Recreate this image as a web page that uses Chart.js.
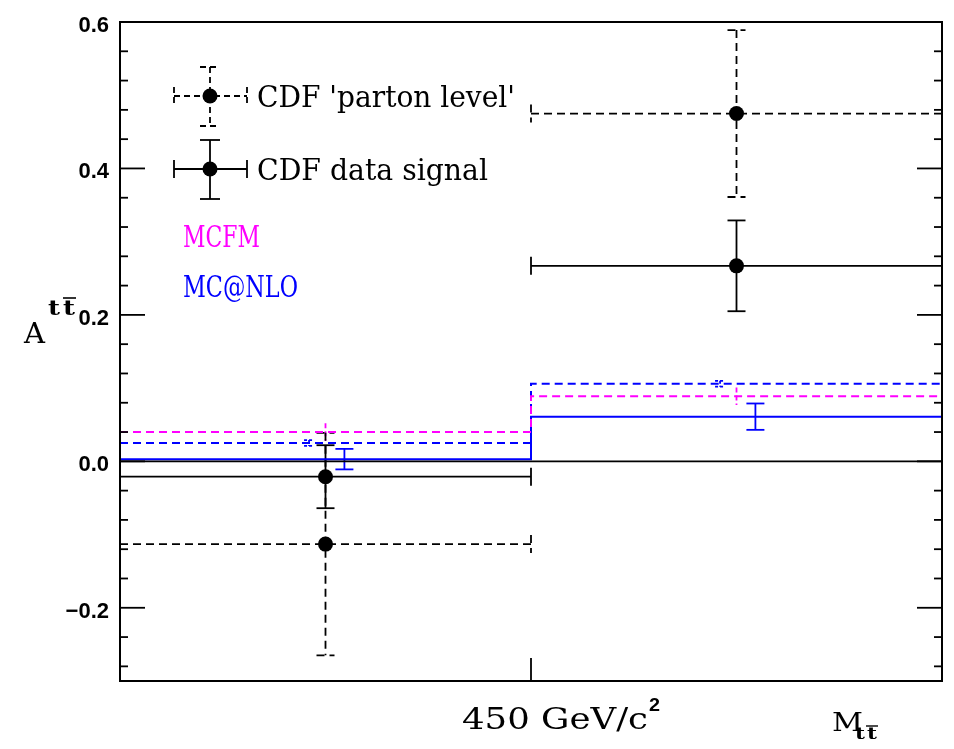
<!DOCTYPE html>
<html>
<head>
<meta charset="utf-8">
<script src="https://cdn.jsdelivr.net/npm/chart.js@4.4.1/dist/chart.umd.min.js"></script>
<style>
    body { margin: 0; background: #fff; }
    #wrap { width: 954px; height: 749px; }
</style>
</head>
<body>
<div id="wrap"><canvas id="grafico" width="954" height="749"></canvas></div>
<script>
// dois bins em M_tt: abaixo e acima de 450 GeV/c^2 (x = 1)
const binEdges = [0, 1, 2];
const binCenters = [0.5, 1.5];

const cdfData = [-0.021, 0.267];
const cdfDataErr = [0.043, 0.062];
const cdfParton = [-0.113, 0.475];
const cdfPartonErr = [0.152, 0.114];

const mcfm = [0.040, 0.089];
const mcfmErr = [0.012, 0.012];
const mcnloDash = [0.025, 0.106];
const mcnloDashErr = [0.004, 0.004];
const mcnlo = [0.003, 0.061];
const mcnloErr = [0.014, 0.018];

const yTicks = [-0.2, 0.0, 0.2, 0.4, 0.6];
const yTickLabels = ["\u22120.2", "0.0", "0.2", "0.4", "0.6"];
const yMinorStep = 0.04;
const xTicks = [1];
const xTickLabel = "450 GeV/c";

const MAGENTA = "#ff00ff";
const AZUL = "#0000ff";
const SERIF = "'DejaVu Serif', serif";
const SANS = "'Liberation Sans', sans-serif";

// histograma em degraus a partir dos valores por bin
function passos(vals) {
    const pts = [];
    vals.forEach((v, i) => {
        pts.push({ x: binEdges[i], y: v }, { x: binEdges[i + 1], y: v });
    });
    return pts;
}

function pontos(vals) {
    return vals.map((v, i) => ({ x: binCenters[i], y: v }));
}

// texto ajustado a uma largura alvo
function texto(ctx, str, x, y, font, cor, largura) {
    ctx.save();
    ctx.font = font;
    ctx.fillStyle = cor;
    ctx.textBaseline = "alphabetic";
    ctx.textAlign = "left";
    ctx.translate(x, y);
    if (largura) {
        const w = ctx.measureText(str).width;
        ctx.scale(largura / w, 1);
    }
    ctx.fillText(str, 0, 0);
    ctx.restore();
}

function linha(ctx, x1, y1, x2, y2) {
    ctx.beginPath();
    ctx.moveTo(x1, y1);
    ctx.lineTo(x2, y2);
    ctx.stroke();
}

function barras(ctx, xs, ys, vals, errs, op) {
    ctx.save();
    ctx.strokeStyle = op.cor;
    ctx.lineWidth = op.lw || 1.8;
    ctx.setLineDash(op.dash || []);
    vals.forEach((v, i) => {
        const px = xs.getPixelForValue(binCenters[i] + (op.dx || 0));
        const py = ys.getPixelForValue(v);
        const pTop = ys.getPixelForValue(v + errs[i]);
        const pBot = ys.getPixelForValue(v - errs[i]);
        linha(ctx, px, pTop, px, pBot);
        if (op.cap) {
            linha(ctx, px - op.cap, pTop, px + op.cap, pTop);
            linha(ctx, px - op.cap, pBot, px + op.cap, pBot);
        }
        if (op.horiz) {
            const xa = xs.getPixelForValue(binEdges[i]);
            const xb = xs.getPixelForValue(binEdges[i + 1]);
            linha(ctx, xa, py, xb, py);
            linha(ctx, xa, py - 9, xa, py + 9);
            linha(ctx, xb, py - 9, xb, py + 9);
        }
    });
    ctx.restore();
}

function marcador(ctx, cx, cy, dash) {
    ctx.save();
    ctx.strokeStyle = "#000";
    ctx.lineWidth = 1.8;
    ctx.setLineDash(dash);
    linha(ctx, 174, cy, 247, cy);
    linha(ctx, 174, cy - 9, 174, cy + 9);
    linha(ctx, 247, cy - 9, 247, cy + 9);
    linha(ctx, cx, cy - 29, cx, cy + 30);
    linha(ctx, cx - 10, cy - 29, cx + 10, cy - 29);
    linha(ctx, cx - 10, cy + 30, cx + 10, cy + 30);
    ctx.setLineDash([]);
    ctx.fillStyle = "#000";
    ctx.beginPath();
    ctx.arc(cx, cy, 7.5, 0, Math.PI * 2);
    ctx.fill();
    ctx.restore();
}

const desenho = {
    id: "desenho",
    beforeDatasetsDraw(chart) {
        const ctx = chart.ctx;
        const xs = chart.scales.x;
        const ys = chart.scales.y;
        const a = chart.chartArea;
        ctx.save();
        ctx.beginPath();
        ctx.rect(a.left, a.top, a.right - a.left, a.bottom - a.top);
        ctx.clip();
        barras(ctx, xs, ys, mcfm, mcfmErr, { cor: MAGENTA, dash: [5, 3] });
        barras(ctx, xs, ys, mcnloDash, mcnloDashErr, { cor: AZUL, dash: [3, 2], dx: -0.04, cap: 5 });
        barras(ctx, xs, ys, mcnlo, mcnloErr, { cor: AZUL, dx: 0.046, cap: 9 });
        barras(ctx, xs, ys, cdfParton, cdfPartonErr, { cor: "#000", dash: [8, 5], cap: 9, horiz: true });
        barras(ctx, xs, ys, cdfData, cdfDataErr, { cor: "#000", cap: 9, horiz: true });
        ctx.restore();
    },
    afterDraw(chart) {
        const ctx = chart.ctx;
        const xs = chart.scales.x;
        const ys = chart.scales.y;
        const a = chart.chartArea;

        ctx.save();
        ctx.strokeStyle = "#000";
        ctx.lineWidth = 2;
        ctx.strokeRect(a.left, a.top, a.right - a.left, a.bottom - a.top);

        // ticks para dentro nos dois lados
        ctx.lineWidth = 1.8;
        for (let k = -7; k <= 15; k++) {
            const v = k * yMinorStep;
            const py = ys.getPixelForValue(v);
            const major = yTicks.some(t => Math.abs(t - v) < 1e-6);
            const len = major ? 25 : 8;
            linha(ctx, a.left, py, a.left + len, py);
            linha(ctx, a.right, py, a.right - len, py);
        }
        xTicks.forEach(t => {
            const px = xs.getPixelForValue(t);
            linha(ctx, px, a.bottom, px, a.bottom - 23);
        });
        ctx.restore();

        // rótulos do eixo y
        ctx.save();
        ctx.font = "bold 22px " + SANS;
        ctx.fillStyle = "#000";
        ctx.textAlign = "right";
        ctx.textBaseline = "alphabetic";
        yTicks.forEach((t, i) => {
            ctx.fillText(yTickLabels[i], 109, ys.getPixelForValue(t) + 10);
        });
        ctx.restore();

        // título do eixo y: A^{t tbar}
        texto(ctx, "A", 24, 343, "28px " + SERIF, "#000", 21);
        texto(ctx, "t", 48, 315, "bold 21px " + SERIF, "#000", 12);
        texto(ctx, "t", 63, 315, "bold 21px " + SERIF, "#000", 12);
        ctx.save();
        ctx.strokeStyle = "#000";
        ctx.lineWidth = 1.6;
        linha(ctx, 63, 298, 76, 298);
        ctx.restore();

        // rótulos do eixo x
        texto(ctx, xTickLabel, 462, 729, "30px " + SERIF, "#000", 186);
        texto(ctx, "2", 649, 711, "bold 19px " + SANS, "#000", 11);
        texto(ctx, "M", 832, 731, "26px " + SERIF, "#000", 31);
        texto(ctx, "t", 855, 739, "bold 17px " + SERIF, "#000", 10);
        texto(ctx, "t", 867, 739, "bold 17px " + SERIF, "#000", 10);
        ctx.save();
        ctx.strokeStyle = "#000";
        ctx.lineWidth = 1.4;
        linha(ctx, 866, 726, 878, 726);
        ctx.restore();

        // legenda
        marcador(ctx, 210, 96, [6, 4]);
        marcador(ctx, 210, 169, []);
        texto(ctx, "CDF 'parton level'", 257, 107, "29px " + SERIF, "#000", 258);
        texto(ctx, "CDF data signal", 257, 180, "29px " + SERIF, "#000", 231);
        texto(ctx, "MCFM", 183, 247, "29px " + SERIF, MAGENTA, 77);
        texto(ctx, "MC@NLO", 183, 297, "29px " + SERIF, AZUL, 115);
    }
};

new Chart(document.getElementById("grafico"), {
    type: "scatter",
    data: {
        datasets: [
            {
                label: "zero",
                data: [{ x: binEdges[0], y: 0 }, { x: binEdges[2], y: 0 }],
                showLine: true, borderColor: "#000", borderWidth: 1.8, pointRadius: 0
            },
            {
                label: "MCFM",
                data: passos(mcfm),
                showLine: true, borderColor: MAGENTA, borderWidth: 2, borderDash: [8, 5], pointRadius: 0
            },
            {
                label: "MC@NLO (tracejado)",
                data: passos(mcnloDash),
                showLine: true, borderColor: AZUL, borderWidth: 2, borderDash: [8, 5], pointRadius: 0
            },
            {
                label: "MC@NLO",
                data: passos(mcnlo),
                showLine: true, borderColor: AZUL, borderWidth: 2, pointRadius: 0
            },
            {
                label: "CDF 'parton level'",
                data: pontos(cdfParton),
                pointRadius: 7.5, pointBackgroundColor: "#000", pointBorderWidth: 0
            },
            {
                label: "CDF data signal",
                data: pontos(cdfData),
                pointRadius: 7.5, pointBackgroundColor: "#000", pointBorderWidth: 0
            }
        ]
    },
    options: {
        responsive: false,
        animation: false,
        layout: { padding: { left: 120, right: 12, top: 22, bottom: 68 } },
        plugins: { legend: { display: false }, tooltip: { enabled: false } },
        scales: {
            x: { type: "linear", min: 0, max: 2, display: false },
            y: { type: "linear", min: -0.3, max: 0.6, display: false }
        }
    },
    plugins: [desenho]
});
</script>
</body>
</html>
